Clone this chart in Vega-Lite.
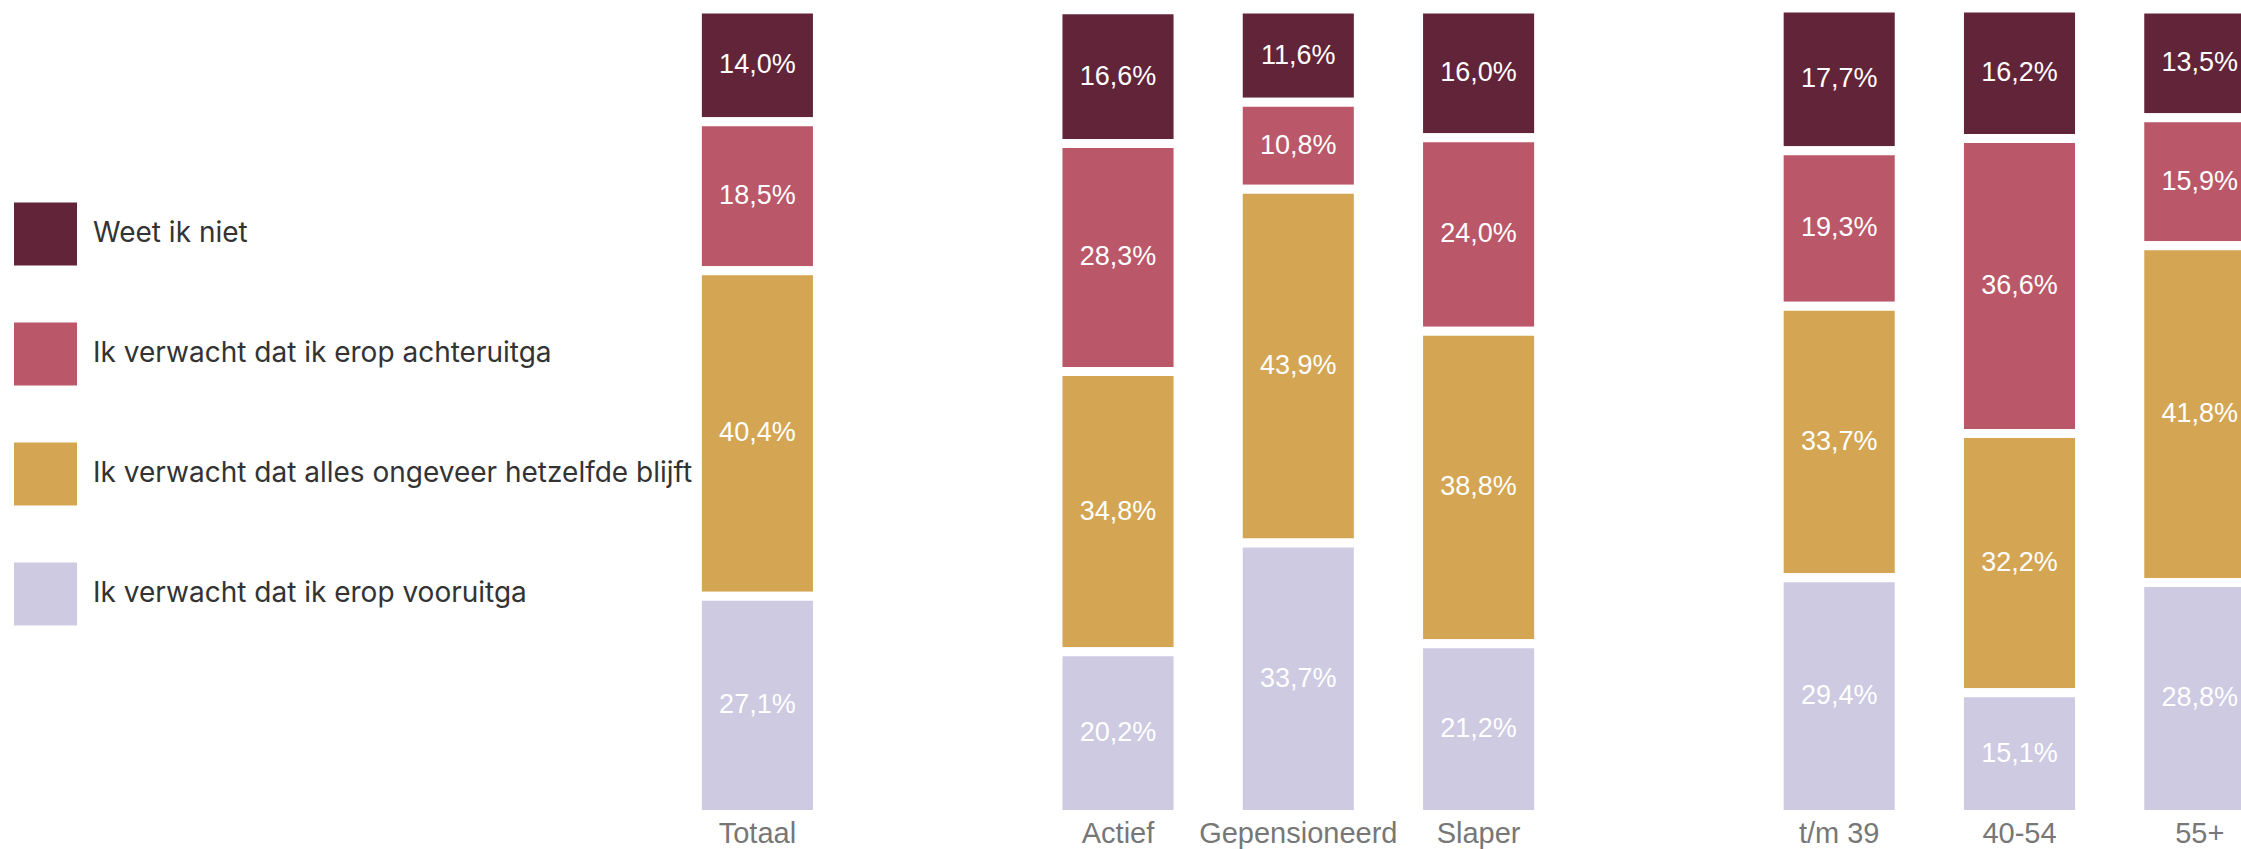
{
  "$schema": "https://vega.github.io/schema/vega-lite/v6.json",
  "width": 2241,
  "height": 815,
  "autosize": {"type": "none"},
  "padding": {"left": 0, "top": 0, "right": 0, "bottom": 34},
  "background": "white",
  "config": {
    "view": {"stroke": null},
    "locale": {"number": {"decimal": ",", "thousands": ".", "grouping": [3], "currency": ["€ ", ""]}}
  },
  "datasets": {
    "answers": [
      {"answer": "Weet ik niet", "rank": 1},
      {"answer": "Ik verwacht dat ik erop achteruitga", "rank": 2},
      {"answer": "Ik verwacht dat alles ongeveer hetzelfde blijft", "rank": 3},
      {"answer": "Ik verwacht dat ik erop vooruitga", "rank": 4}
    ],
    "main": [
      {"group": "Totaal", "answer": "Weet ik niet", "pct": 0.140},
      {"group": "Totaal", "answer": "Ik verwacht dat ik erop achteruitga", "pct": 0.185},
      {"group": "Totaal", "answer": "Ik verwacht dat alles ongeveer hetzelfde blijft", "pct": 0.404},
      {"group": "Totaal", "answer": "Ik verwacht dat ik erop vooruitga", "pct": 0.271},
      {"group": "Actief", "answer": "Weet ik niet", "pct": 0.166},
      {"group": "Actief", "answer": "Ik verwacht dat ik erop achteruitga", "pct": 0.283},
      {"group": "Actief", "answer": "Ik verwacht dat alles ongeveer hetzelfde blijft", "pct": 0.348},
      {"group": "Actief", "answer": "Ik verwacht dat ik erop vooruitga", "pct": 0.202},
      {"group": "Gepensioneerd", "answer": "Weet ik niet", "pct": 0.116},
      {"group": "Gepensioneerd", "answer": "Ik verwacht dat ik erop achteruitga", "pct": 0.108},
      {"group": "Gepensioneerd", "answer": "Ik verwacht dat alles ongeveer hetzelfde blijft", "pct": 0.439},
      {"group": "Gepensioneerd", "answer": "Ik verwacht dat ik erop vooruitga", "pct": 0.337},
      {"group": "Slaper", "answer": "Weet ik niet", "pct": 0.160},
      {"group": "Slaper", "answer": "Ik verwacht dat ik erop achteruitga", "pct": 0.240},
      {"group": "Slaper", "answer": "Ik verwacht dat alles ongeveer hetzelfde blijft", "pct": 0.388},
      {"group": "Slaper", "answer": "Ik verwacht dat ik erop vooruitga", "pct": 0.212},
      {"group": "t/m 39", "answer": "Weet ik niet", "pct": 0.177},
      {"group": "t/m 39", "answer": "Ik verwacht dat ik erop achteruitga", "pct": 0.193},
      {"group": "t/m 39", "answer": "Ik verwacht dat alles ongeveer hetzelfde blijft", "pct": 0.337},
      {"group": "t/m 39", "answer": "Ik verwacht dat ik erop vooruitga", "pct": 0.294},
      {"group": "40-54", "answer": "Weet ik niet", "pct": 0.162},
      {"group": "40-54", "answer": "Ik verwacht dat ik erop achteruitga", "pct": 0.366},
      {"group": "40-54", "answer": "Ik verwacht dat alles ongeveer hetzelfde blijft", "pct": 0.322},
      {"group": "40-54", "answer": "Ik verwacht dat ik erop vooruitga", "pct": 0.151},
      {"group": "55+", "answer": "Weet ik niet", "pct": 0.135},
      {"group": "55+", "answer": "Ik verwacht dat ik erop achteruitga", "pct": 0.159},
      {"group": "55+", "answer": "Ik verwacht dat alles ongeveer hetzelfde blijft", "pct": 0.418},
      {"group": "55+", "answer": "Ik verwacht dat ik erop vooruitga", "pct": 0.288}
    ]
  },
  "data": {"name": "main"},
  "transform": [
    {"lookup": "answer", "from": {"data": {"name": "answers"}, "key": "answer", "fields": ["rank"]}},
    {"stack": "pct", "groupby": ["group"], "sort": [{"field": "rank", "order": "descending"}], "as": ["v0", "v1"]},
    {"calculate": "(datum.v0 + datum.v1) / 2", "as": "mid"}
  ],
  "encoding": {
    "x": {
      "field": "group",
      "type": "nominal",
      "title": null,
      "scale": {
        "domain": ["Totaal", " ", "Actief", "Gepensioneerd", "Slaper", "  ", "t/m 39", "40-54", "55+"],
        "range": [667.25, 2289.95],
        "paddingInner": 0.334,
        "paddingOuter": 0.167
      },
      "axis": {
        "domain": false,
        "ticks": false,
        "tickSize": 0,
        "grid": false,
        "labelAngle": 0,
        "labelPadding": 4,
        "labelFont": "Liberation Sans",
        "labelFontSize": 29,
        "labelColor": "#777777",
        "labelLimit": 400
      }
    }
  },
  "layer": [
    {
      "mark": {"type": "bar", "stroke": "white", "strokeWidth": 9, "clip": true},
      "encoding": {
        "y": {"field": "v0", "type": "quantitative", "scale": {"domain": [0, 1], "range": [814.5, 8.9]}, "axis": null},
        "y2": {"field": "v1"},
        "color": {
          "field": "answer",
          "type": "nominal",
          "scale": {
            "domain": ["Weet ik niet", "Ik verwacht dat ik erop achteruitga", "Ik verwacht dat alles ongeveer hetzelfde blijft", "Ik verwacht dat ik erop vooruitga"],
            "range": ["#622438", "#ba5769", "#d4a653", "#cdcae2"]
          },
          "legend": {
            "orient": "none",
            "legendX": 14,
            "legendY": 202.5,
            "title": null,
            "padding": 0,
            "symbolType": "square",
            "symbolSize": 3969,
            "symbolStrokeWidth": 0,
            "symbolOpacity": 1,
            "labelFont": "Inter",
            "labelFontSize": 28,
            "labelColor": "#333333",
            "labelOffset": 16,
            "labelLimit": 900,
            "rowPadding": 57
          }
        }
      }
    },
    {
      "mark": {"type": "text", "color": "white", "font": "Liberation Sans", "fontSize": 27, "baseline": "middle", "align": "center", "clip": true},
      "encoding": {
        "y": {"field": "mid", "type": "quantitative"},
        "text": {"field": "pct", "type": "quantitative", "format": ".1%"}
      }
    }
  ]
}
